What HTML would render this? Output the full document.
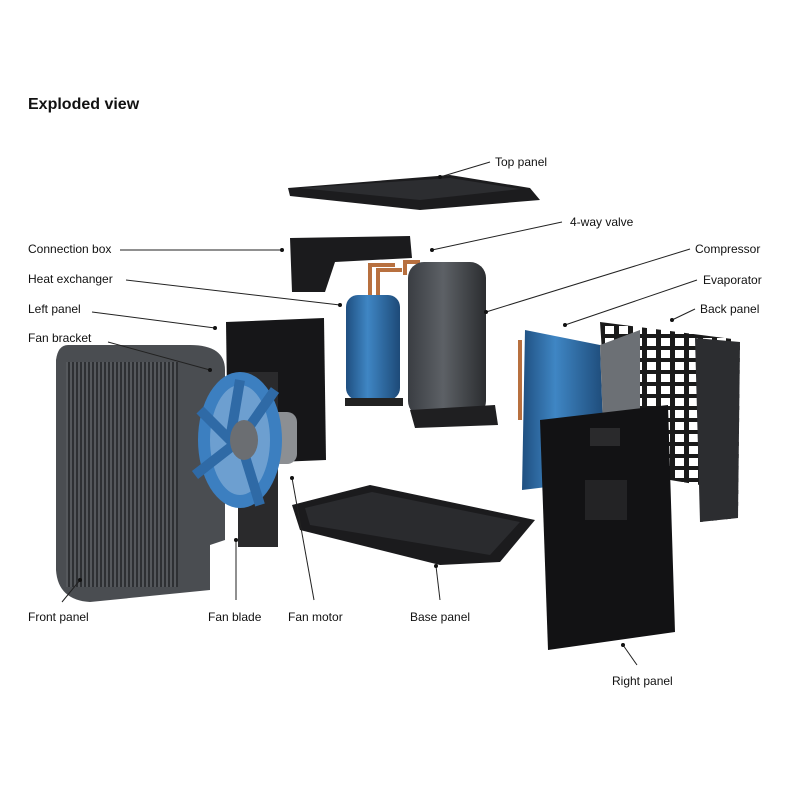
<!DOCTYPE html>
<html><head><meta charset="utf-8"><style>
html,body{margin:0;padding:0;background:#fff;}
svg{display:block;}
text{font-family:"Liberation Sans",sans-serif;font-size:12px;fill:#111;}
</style></head><body>
<svg width="800" height="800" viewBox="0 0 800 800">
<defs>
<linearGradient id="gc" x1="0" x2="1"><stop offset="0" stop-color="#3a3d42"/><stop offset=".45" stop-color="#5d6166"/><stop offset="1" stop-color="#2b2d30"/></linearGradient>
<linearGradient id="gb" x1="0" x2="1"><stop offset="0" stop-color="#1f4f80"/><stop offset=".4" stop-color="#3f86c4"/><stop offset="1" stop-color="#1d4a78"/></linearGradient>
<pattern id="grid" width="14" height="12" patternUnits="userSpaceOnUse"><rect width="14" height="12" fill="#1a1a1a"/><rect x="3" y="2" width="9" height="8" fill="#fff"/></pattern>
<pattern id="fins" width="4" height="4" patternUnits="userSpaceOnUse"><rect width="4" height="4" fill="#55585c"/><rect width="2" height="4" fill="#2e3033"/></pattern>
</defs>
<text x="28" y="109" style="font-size:16px;font-weight:bold">Exploded view</text>

<!-- top panel -->
<polygon points="288,188 450,175 530,188 540,200 420,210 290,196" fill="#1c1c1e"/>
<polygon points="300,188 450,178 520,189 420,200" fill="#2c2d30"/>
<!-- connection box -->
<polygon points="290,238 410,236 412,258 335,262 325,292 292,292" fill="#1b1b1d"/>
<!-- pipes -->
<path d="M370,300 V265 H395 M378,300 V270 H402 M405,275 V262 H420" stroke="#b8703f" stroke-width="4" fill="none"/>
<!-- heat exchanger -->
<rect x="346" y="295" width="54" height="105" rx="12" fill="url(#gb)"/>
<rect x="345" y="398" width="58" height="8" fill="#222"/>
<!-- compressor -->
<rect x="408" y="262" width="78" height="155" rx="16" fill="url(#gc)"/>
<polygon points="410,410 495,405 498,425 415,428" fill="#1f1f21"/>
<!-- left panel -->
<polygon points="226,322 324,318 326,460 228,464" fill="#161618"/>
<!-- front panel -->
<path d="M68,345 L190,345 Q225,345 225,370 L225,540 L210,545 L210,590 L90,602 Q58,600 56,570 L56,360 Q58,345 68,345Z" fill="#4a4d51"/>
<rect x="66" y="362" width="112" height="225" fill="url(#fins)"/>
<!-- fan bracket & motor -->
<rect x="238" y="372" width="40" height="175" fill="#2a2a2c"/>
<rect x="255" y="412" width="42" height="52" rx="10" fill="#8c8f93"/>
<!-- fan blade -->
<ellipse cx="240" cy="440" rx="42" ry="68" fill="#3c7fc0"/>
<ellipse cx="240" cy="440" rx="30" ry="55" fill="#fff" opacity=".25"/>
<path d="M240,380 L230,440 L200,410 M240,440 L195,475 M240,440 L260,505 M240,440 L275,390" stroke="#2f6aa6" stroke-width="10" fill="none"/>
<ellipse cx="244" cy="440" rx="14" ry="20" fill="#6b6e72"/>
<!-- base panel -->
<polygon points="292,505 370,485 535,520 500,562 440,565 300,530" fill="#1b1b1d"/>
<polygon points="305,508 372,492 520,522 490,555 310,525" fill="#2a2b2e"/>
<!-- back panel -->
<polygon points="600,322 740,340 738,518 700,522 700,485 610,470" fill="url(#grid)"/>
<polygon points="695,338 740,342 738,518 700,522" fill="#2c2d30"/>
<!-- evaporator -->
<path d="M520,340 V420 M528,338 V418" stroke="#b8703f" stroke-width="4"/>
<polygon points="525,330 600,345 605,480 522,490" fill="url(#gb)"/>
<polygon points="600,345 640,330 640,415 605,480" fill="#6c7075"/>
<!-- right panel -->
<polygon points="540,420 668,405 675,632 548,650" fill="#121214"/>
<rect x="590" y="428" width="30" height="18" fill="#2a2a2c"/>
<rect x="585" y="480" width="42" height="40" fill="#232325"/>

<!-- leader lines -->
<g stroke="#222" stroke-width="1" fill="none">
<path d="M440,177 L490,162"/><path d="M432,250 L562,222"/><path d="M486,312 L690,249"/>
<path d="M565,325 L697,280"/><path d="M672,320 L695,309"/>
<path d="M120,250 L282,250"/><path d="M126,280 L340,305"/><path d="M92,312 L215,328"/>
<path d="M108,342 L210,370"/><path d="M62,602 L80,580"/><path d="M236,600 L236,540"/>
<path d="M314,600 L292,478"/><path d="M440,600 L436,566"/><path d="M637,665 L623,645"/>
</g>
<g fill="#111">
<circle cx="440" cy="177" r="2"/><circle cx="432" cy="250" r="2"/><circle cx="486" cy="312" r="2"/>
<circle cx="565" cy="325" r="2"/><circle cx="672" cy="320" r="2"/><circle cx="282" cy="250" r="2"/>
<circle cx="340" cy="305" r="2"/><circle cx="215" cy="328" r="2"/><circle cx="210" cy="370" r="2"/>
<circle cx="80" cy="580" r="2"/><circle cx="236" cy="540" r="2"/><circle cx="292" cy="478" r="2"/>
<circle cx="436" cy="566" r="2"/><circle cx="623" cy="645" r="2"/>
</g>
<text x="495" y="166">Top panel</text>
<text x="570" y="226">4-way valve</text>
<text x="695" y="253">Compressor</text>
<text x="703" y="284">Evaporator</text>
<text x="700" y="313">Back panel</text>
<text x="28" y="253">Connection box</text>
<text x="28" y="283">Heat exchanger</text>
<text x="28" y="313">Left panel</text>
<text x="28" y="342">Fan bracket</text>
<text x="28" y="621">Front panel</text>
<text x="208" y="621">Fan blade</text>
<text x="288" y="621">Fan motor</text>
<text x="410" y="621">Base panel</text>
<text x="612" y="685">Right panel</text>
</svg>
</body></html>
